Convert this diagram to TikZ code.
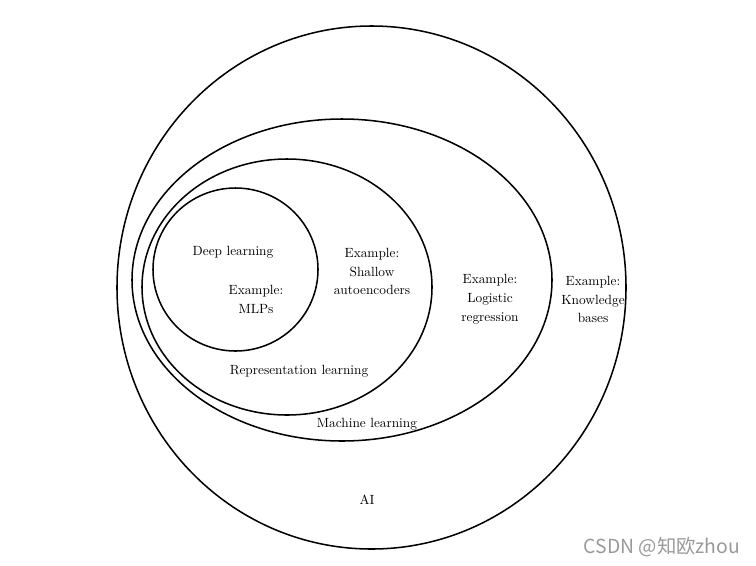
\documentclass[tikz,border=0pt]{standalone}
\usepackage{fontspec}
\usepackage{tikz}
\newfontfamily\cjk{Noto Sans CJK SC}
\usetikzlibrary{positioning}

\begin{document}
\begin{tikzpicture}[x=0.75pt,y=-0.75pt,line width=1.15pt,
  lbl/.style={align=center,inner sep=0pt,font=\fontsize{10}{14.2}\selectfont}]
\useasboundingbox (0,0) rectangle (756,565);
% nested sets
\draw (371.5,287.5) ellipse [x radius=254.5,y radius=261.5];
\draw (342,280) ellipse [x radius=210,y radius=161];
\draw (287,287) ellipse [x radius=145,y radius=128];
\draw (235.5,269.5) ellipse [x radius=82.5,y radius=81.5];
% labels
\node[lbl] (dl) at (233,252) {Deep learning};
\node[lbl] (mlp) at (256,299.5) {Example:\\MLPs};
\node[lbl] (sae) at (372,271.5) {Example:\\Shallow\\autoencoders};
\node[lbl] (rl) at (299,371.5) {Representation learning};
\node[lbl] (lr) at (490,299.5) {Example:\\Logistic\\regression};
\node[lbl] (kb) at (593,299.5) {Example:\\Knowledge\\bases};
\node[lbl] (ml) at (367,424.5) {Machine learning};
\node[lbl] (ai) at (367,499.5) {AI};
\node[inner sep=0pt,gray!80,font=\cjk\fontsize{14.5}{16}\selectfont] (wm) at (662,547) {CSDN @知欧zhou};
\end{tikzpicture}
\end{document}
